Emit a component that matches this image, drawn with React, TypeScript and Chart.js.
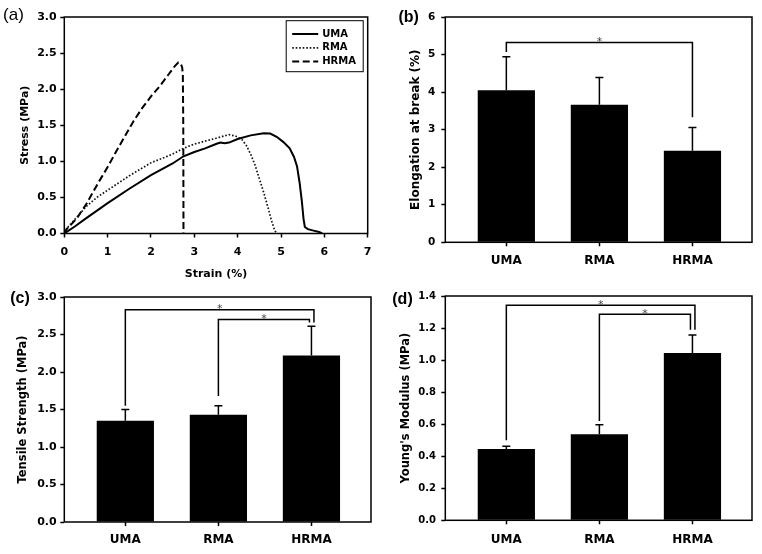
import React, { useEffect, useRef } from "react";
import { Chart, registerables } from "chart.js";
Chart.register(...registerables);

const FONT = "'DejaVu Sans', 'Liberation Sans', sans-serif";
const LABEL_FONT = "'Liberation Sans', Arial, sans-serif";

// ---------- data ----------
const categories = ["UMA", "RMA", "HRMA"];

const elongation = [4.05, 3.66, 2.44];
const elongationErr = [0.89, 0.73, 0.62];

const tensile = [1.35, 1.43, 2.22];
const tensileErr = [0.15, 0.12, 0.39];

const modulus = [0.445, 0.537, 1.044];
const modulusErr = [0.017, 0.06, 0.113];

// significance brackets: from/to category index, level of bar, leg end values
const elongationBrackets = [{ from: 0, to: 2, level: 5.32, fromEnd: 5.07, toEnd: 3.33, nudge: 0 }];
const tensileBrackets = [
  { from: 0, to: 2, level: 2.83, fromEnd: 1.55, toEnd: 2.66, nudge: 2.5 },
  { from: 1, to: 2, level: 2.7, fromEnd: 1.68, toEnd: 2.66, nudge: -2 },
];
const modulusBrackets = [
  { from: 0, to: 2, level: 1.342, fromEnd: 0.5, toEnd: 1.19, nudge: 2.5 },
  { from: 1, to: 2, level: 1.286, fromEnd: 0.62, toEnd: 1.19, nudge: -2 },
];

const curveLabels = ["UMA", "RMA", "HRMA"];
const umaStrain = [0, 0.25, 0.5, 1, 1.5, 2, 2.5, 2.75, 3, 3.25, 3.5, 3.6, 3.7, 3.8, 4, 4.3, 4.6, 4.75, 4.9, 5.05, 5.2, 5.3, 5.37, 5.43, 5.48, 5.52, 5.55, 5.62, 5.75, 5.88, 5.95];
const umaStress = [0, 0.1, 0.21, 0.42, 0.62, 0.81, 0.97, 1.07, 1.13, 1.18, 1.24, 1.26, 1.25, 1.26, 1.31, 1.36, 1.39, 1.385, 1.34, 1.27, 1.18, 1.06, 0.93, 0.7, 0.45, 0.2, 0.09, 0.06, 0.04, 0.02, 0];
const rmaStrain = [0, 0.1, 0.25, 0.5, 0.75, 1, 1.5, 2, 2.5, 2.75, 3, 3.5, 3.8, 3.95, 4.1, 4.2, 4.3, 4.4, 4.5, 4.6, 4.7, 4.78, 4.85, 4.9];
const rmaStress = [0, 0.1, 0.2, 0.37, 0.5, 0.6, 0.8, 0.98, 1.1, 1.18, 1.24, 1.32, 1.37, 1.35, 1.3, 1.22, 1.1, 0.95, 0.76, 0.57, 0.36, 0.18, 0.05, 0];
const hrmaStrain = [0, 0.05, 0.15, 0.3, 0.5, 0.8, 1.0, 1.2, 1.4, 1.6, 1.8, 2.0, 2.2, 2.4, 2.55, 2.63, 2.69, 2.72, 2.735, 2.745, 2.75];
const hrmaStress = [0, 0.06, 0.12, 0.22, 0.4, 0.72, 0.92, 1.14, 1.35, 1.56, 1.74, 1.9, 2.04, 2.2, 2.32, 2.37, 2.35, 2.3, 2.2, 1.5, 0];

// ---------- decoration plugin ----------
const decorPlugin = {
  id: "decor",
  afterDraw(chart: any, _a: any, opts: any) {
    const ctx: CanvasRenderingContext2D = chart.ctx;
    const a = chart.chartArea;
    ctx.save();
    ctx.strokeStyle = "#000";
    ctx.fillStyle = "#000";
    ctx.lineWidth = 1.5;
    ctx.strokeRect(a.left, a.top, a.right - a.left, a.bottom - a.top);
    const xs = chart.scales.x;
    const ys = chart.scales.y;

    if (opts.errors) {
      const pts = chart.data.datasets[0].data as any[];
      opts.errors.forEach((e: number, i: number) => {
        const px = xs.getPixelForValue(pts[i].x);
        const y0 = ys.getPixelForValue(pts[i].y);
        const y1 = ys.getPixelForValue(pts[i].y + e);
        ctx.beginPath();
        ctx.moveTo(px, y0);
        ctx.lineTo(px, y1);
        ctx.moveTo(px - 4, y1);
        ctx.lineTo(px + 4, y1);
        ctx.stroke();
      });
    }

    if (opts.brackets) {
      opts.brackets.forEach((b: any) => {
        const xa = xs.getPixelForValue(b.from);
        const xb = xs.getPixelForValue(b.to) + b.nudge;
        const yl = ys.getPixelForValue(b.level);
        const ya = ys.getPixelForValue(b.fromEnd);
        const yb = ys.getPixelForValue(b.toEnd);
        ctx.beginPath();
        ctx.moveTo(xa, ya);
        ctx.lineTo(xa, yl);
        ctx.lineTo(xb, yl);
        ctx.lineTo(xb, yb);
        ctx.stroke();
        ctx.save();
        ctx.fillStyle = "#444";
        ctx.font = `11px ${FONT}`;
        ctx.textAlign = "center";
        ctx.textBaseline = "alphabetic";
        ctx.fillText("*", (xa + xb) / 2, yl + 2.5);
        ctx.restore();
      });
    }

    if (opts.legendBox) {
      const w = 77, h = 51;
      const x0 = a.right - 4.5 - w;
      const y0 = a.top + 3.7;
      ctx.lineWidth = 1;
      ctx.strokeRect(x0, y0, w, h);
      chart.data.datasets.forEach((ds: any, i: number) => {
        const y = y0 + 13.3 + i * 13.8;
        ctx.save();
        ctx.strokeStyle = ds.borderColor;
        ctx.lineWidth = ds.borderWidth;
        ctx.setLineDash(ds.borderDash || []);
        ctx.beginPath();
        ctx.moveTo(x0 + 6, y);
        ctx.lineTo(x0 + 32, y);
        ctx.stroke();
        ctx.restore();
        ctx.font = `bold 10px ${FONT}`;
        ctx.textAlign = "left";
        ctx.textBaseline = "middle";
        ctx.fillStyle = "#000";
        ctx.fillText(ds.label, x0 + 36, y);
      });
    }

    if (opts.panel) {
      ctx.font = opts.panel.font;
      ctx.textAlign = "center";
      ctx.textBaseline = "middle";
      ctx.fillStyle = "#000";
      ctx.fillText(opts.panel.text, opts.panel.x, opts.panel.y);
    }
    ctx.restore();
  },
};

const gridOpts = {
  offset: false,
  drawOnChartArea: false,
  drawTicks: true,
  tickLength: 4,
  tickWidth: 1.5,
  tickColor: "#000",
};

function barConfig(p: {
  values: number[];
  errors: number[];
  yMax: number;
  yStep: number;
  digits: number;
  title: string;
  titleSize: number;
  titlePad: number;
  yTickSize: number;
  yTickPad: number;
  xTickPad: number;
  top: number;
  xHeight: number;
  brackets: any[];
  panel: any;
}) {
  return {
    type: "bar" as const,
    data: {
      datasets: [
        {
          data: p.values.map((v, i) => ({ x: i, y: v })),
          backgroundColor: "#000",
          borderWidth: 0,
          barPercentage: 1,
          categoryPercentage: 0.615,
        },
      ],
    },
    options: {
      animation: false as const,
      responsive: false,
      events: [],
      layout: { padding: { top: p.top, right: 10, left: 0, bottom: 0 } },
      plugins: {
        legend: { display: false },
        tooltip: { enabled: false },
        decor: { errors: p.errors, brackets: p.brackets, panel: p.panel },
      },
      scales: {
        x: {
          type: "linear" as const,
          offset: false,
          min: -0.656,
          max: 2.64,
          afterBuildTicks: (s: any) => {
            s.ticks = categories.map((_, i) => ({ value: i }));
          },
          afterFit: (s: any) => {
            s.height = p.xHeight;
          },
          ticks: {
            callback: (v: any) => categories[v as number],
            color: "#000",
            font: { family: FONT, size: 12, weight: "bold" as const },
            padding: p.xTickPad,
            maxRotation: 0,
          },
          grid: gridOpts,
          border: { display: false },
        },
        y: {
          min: 0,
          max: p.yMax,
          afterFit: (s: any) => {
            s.width = 64.3;
          },
          ticks: {
            stepSize: p.yStep,
            callback: (v: any) => Number(v).toFixed(p.digits),
            color: "#000",
            font: { family: FONT, size: p.yTickSize, weight: "bold" as const },
            padding: p.yTickPad,
          },
          grid: gridOpts,
          border: { display: false },
          title: {
            display: true,
            text: p.title,
            color: "#000",
            font: { family: FONT, size: p.titleSize, weight: "bold" as const },
            padding: { top: p.titlePad, bottom: 0 },
          },
        },
      },
    },
    plugins: [decorPlugin],
  };
}

function curveConfig() {
  const series = [
    { x: umaStrain, y: umaStress, dash: [] as number[], width: 2, color: "#000" },
    { x: rmaStrain, y: rmaStress, dash: [1.6, 1.9], width: 1.7, color: "#111" },
    { x: hrmaStrain, y: hrmaStress, dash: [7, 3.5], width: 2, color: "#000" },
  ];
  return {
    type: "line" as const,
    data: {
      datasets: series.map((s, k) => ({
        label: curveLabels[k],
        data: s.x.map((xv, i) => ({ x: xv, y: s.y[i] })),
        borderColor: s.color,
        borderWidth: s.width,
        borderDash: s.dash,
        pointRadius: 0,
        fill: false,
        tension: 0,
      })),
    },
    options: {
      animation: false as const,
      responsive: false,
      events: [],
      layout: { padding: { top: 17, right: 13.3, left: 0, bottom: 0 } },
      plugins: {
        legend: { display: false },
        tooltip: { enabled: false },
        decor: {
          legendBox: true,
          panel: { text: "(a)", x: 13.5, y: 15.8, font: `17px ${LABEL_FONT}` },
        },
      },
      scales: {
        x: {
          type: "linear" as const,
          min: 0,
          max: 7,
          afterFit: (s: any) => {
            s.height = 290 - 233.5;
          },
          ticks: {
            stepSize: 1,
            color: "#000",
            font: { family: FONT, size: 11, weight: "bold" as const },
            padding: 7.9,
            maxRotation: 0,
          },
          grid: gridOpts,
          border: { display: false },
          title: {
            display: true,
            text: "Strain (%)",
            color: "#000",
            font: { family: FONT, size: 11, weight: "bold" as const },
            padding: { top: 0, bottom: 9.4 },
          },
        },
        y: {
          min: 0,
          max: 3,
          afterFit: (s: any) => {
            s.width = 64.3;
          },
          ticks: {
            stepSize: 0.5,
            callback: (v: any) => Number(v).toFixed(1),
            color: "#000",
            font: { family: FONT, size: 11, weight: "bold" as const },
            padding: 3.6,
          },
          grid: gridOpts,
          border: { display: false },
          title: {
            display: true,
            text: "Stress (MPa)",
            color: "#000",
            font: { family: FONT, size: 11, weight: "bold" as const },
            padding: { top: 18.4, bottom: 0 },
          },
        },
      },
    },
    plugins: [decorPlugin],
  };
}

function Panel({ make, left, top, width, height }: any) {
  const ref = useRef<HTMLCanvasElement>(null);
  useEffect(() => {
    const c = new Chart(ref.current as HTMLCanvasElement, make() as any);
    return () => c.destroy();
  }, []);
  return (
    <canvas
      ref={ref}
      width={width}
      height={height}
      style={{ position: "absolute", left, top, width, height, display: "block" }}
    />
  );
}

export default function App() {
  return (
    <div style={{ position: "absolute", left: 0, top: 0, width: 762, height: 554, background: "#fff", overflow: "hidden" }}>
      <Panel make={curveConfig} left={0} top={0} width={381} height={290} />
      <Panel
        make={() =>
          barConfig({
            values: elongation,
            errors: elongationErr,
            yMax: 6,
            yStep: 1,
            digits: 0,
            title: "Elongation at break (%)",
            titleSize: 12,
            titlePad: 27.5,
            yTickSize: 10.5,
            yTickPad: 6,
            xTickPad: 7.5,
            top: 17,
            xHeight: 277 - 242.3,
            brackets: elongationBrackets,
            panel: { text: "(b)", x: 27.7, y: 17.2, font: `bold 16px ${LABEL_FONT}` },
          })
        }
        left={381}
        top={0}
        width={381}
        height={277}
      />
      <Panel
        make={() =>
          barConfig({
            values: tensile,
            errors: tensileErr,
            yMax: 3,
            yStep: 0.5,
            digits: 1,
            title: "Tensile Strength (MPa)",
            titleSize: 11.5,
            titlePad: 16.4,
            yTickSize: 11,
            yTickPad: 3.6,
            xTickPad: 6.8,
            top: 20,
            xHeight: 277 - 245,
            brackets: tensileBrackets,
            panel: { text: "(c)", x: 20, y: 21.3, font: `bold 16px ${LABEL_FONT}` },
          })
        }
        left={0}
        top={277}
        width={381}
        height={277}
      />
      <Panel
        make={() =>
          barConfig({
            values: modulus,
            errors: modulusErr,
            yMax: 1.4,
            yStep: 0.2,
            digits: 1,
            title: "Young's Modulus (MPa)",
            titleSize: 11.5,
            titlePad: 18.1,
            yTickSize: 10,
            yTickPad: 5.3,
            xTickPad: 8.5,
            top: 19,
            xHeight: 277 - 243.3,
            brackets: modulusBrackets,
            panel: { text: "(d)", x: 21.5, y: 23, font: `bold 16px ${LABEL_FONT}` },
          })
        }
        left={381}
        top={277}
        width={381}
        height={277}
      />
    </div>
  );
}
